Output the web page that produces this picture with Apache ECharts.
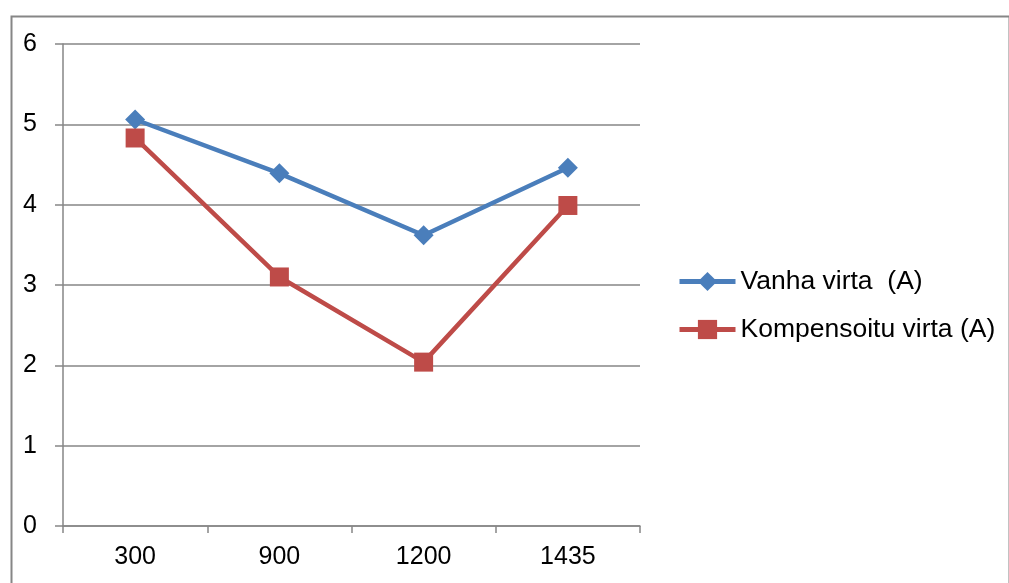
<!DOCTYPE html>
<html>
<head>
<meta charset="utf-8">
<script src="https://cdn.jsdelivr.net/npm/echarts@6/dist/echarts.min.js"></script>
<style>html,body{margin:0;padding:0;background:#fff}#c{width:1009px;height:583px}</style>
</head>
<body>
<div id="c"></div>
<script>
const categories = ['300', '900', '1200', '1435'];
const vanhaVirta = [5.06, 4.39, 3.62, 4.46];
const kompensoituVirta = [4.83, 3.10, 2.04, 3.99];
const seriesNames = ['Vanha virta  (A)', 'Kompensoitu virta (A)'];
const yTicks = { min: 0, max: 6, interval: 1 };

const font = '"Liberation Sans", Arial, sans-serif';
const gray = '#868686';
const chart = echarts.init(document.getElementById('c'), null, { renderer: 'canvas' });
chart.setOption({
  animation: false,
  backgroundColor: '#fff',
  graphic: [{
    type: 'rect', left: 9, top: 14, z: -1,
    shape: { width: 998, height: 620 },
    style: { fill: 'none', stroke: gray, lineWidth: 2 }
  }],
  grid: { left: 63, top: 44, width: 577, bottom: 57 },
  legend: {
    orient: 'vertical', left: 672, top: 263,
    itemWidth: 56, itemHeight: 24, itemGap: 21,
    lineStyle: { width: 5 },
    textStyle: { fontFamily: font, fontSize: 26.5, color: '#000' },
    data: seriesNames
  },
  xAxis: {
    type: 'category', data: categories, boundaryGap: true,
    axisLine: { lineStyle: { color: gray, width: 1.5 } },
    axisTick: { show: true, length: 7, lineStyle: { color: gray, width: 1.5 } },
    axisLabel: { fontFamily: font, fontSize: 25, color: '#000', margin: 19 }
  },
  yAxis: {
    type: 'value', min: yTicks.min, max: yTicks.max, interval: yTicks.interval,
    axisLine: { show: true, lineStyle: { color: gray, width: 1.5 } },
    axisTick: { show: true, length: 8, lineStyle: { color: gray, width: 1.5 } },
    splitLine: { lineStyle: { color: gray, width: 1.5 } },
    axisLabel: { fontFamily: font, fontSize: 25, color: '#000', margin: 26 }
  },
  series: [
    {
      name: seriesNames[0], type: 'line', data: vanhaVirta,
      symbol: 'diamond', symbolSize: 20,
      lineStyle: { color: '#4A7EBB', width: 4.5 },
      itemStyle: { color: '#4A7EBB' }
    },
    {
      name: seriesNames[1], type: 'line', data: kompensoituVirta,
      symbol: 'rect', symbolSize: 19,
      lineStyle: { color: '#BE4B48', width: 4.5 },
      itemStyle: { color: '#BE4B48' }
    }
  ]
});
</script>
</body>
</html>
